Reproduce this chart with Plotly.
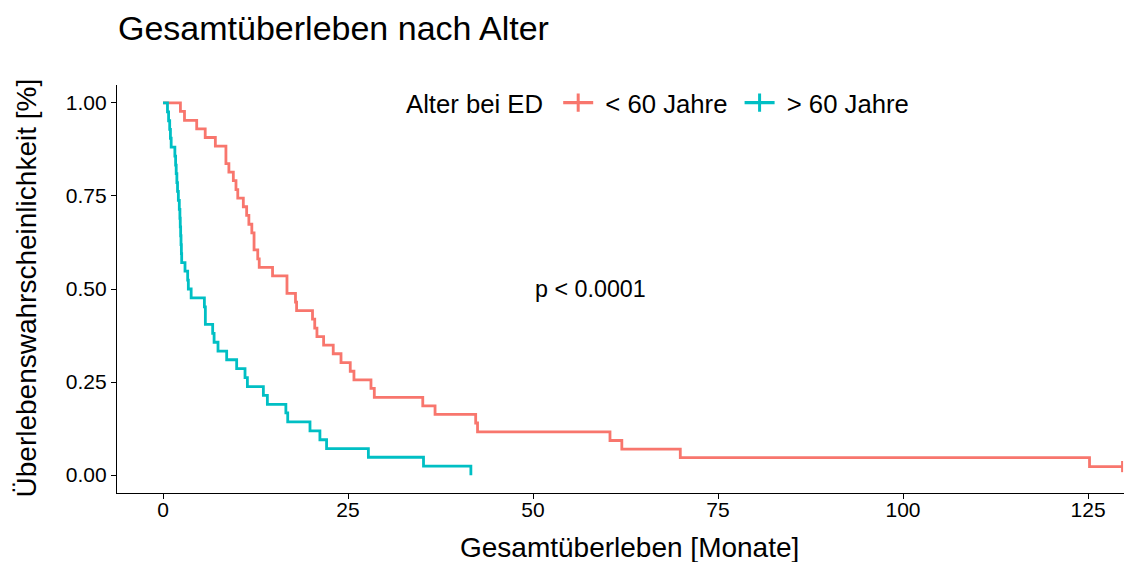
import plotly.graph_objects as go

# ---- data (Kaplan-Meier steps) ----
time_lt60 = [0, 2.35, 2.9, 4.55, 5.7, 7.07, 8.5, 8.9, 9.5, 9.86, 10.1, 10.85, 11.3, 11.6,
             12.0, 12.3, 12.8, 13.0, 14.8, 16.75, 17.9, 18.05, 20.2, 20.5, 20.8, 21.7,
             23.0, 24.05, 25.3, 25.8, 28.1, 28.55, 35.1, 36.76, 42.25, 42.5, 60.4, 62.0,
             69.9, 125.2, 129.6]
surv_lt60 = [1.000, 0.977, 0.953, 0.930, 0.907, 0.884, 0.837, 0.814, 0.791, 0.767, 0.744,
             0.721, 0.698, 0.674, 0.651, 0.605, 0.581, 0.558, 0.535, 0.488, 0.465, 0.442,
             0.419, 0.395, 0.372, 0.349, 0.326, 0.302, 0.279, 0.256, 0.233, 0.209, 0.186,
             0.163, 0.140, 0.116, 0.093, 0.070, 0.047, 0.023, 0.023]

time_gt60 = [0, 0.6, 0.75, 0.9, 1.0, 1.1, 1.6, 1.7, 1.78, 1.87, 1.96, 2.07, 2.2, 2.28,
             2.33, 2.38, 2.43, 2.48, 2.52, 2.97, 3.33, 3.42, 3.8, 5.59, 5.72, 6.71, 6.9,
             7.43, 8.6, 9.95, 11.08, 11.4, 13.56, 14.1, 16.6, 16.85, 19.86, 21.2, 22.1,
             27.75, 35.2, 41.6]
surv_gt60 = [1.000, 0.976, 0.952, 0.929, 0.905, 0.881, 0.857, 0.833, 0.810, 0.786, 0.762,
             0.738, 0.714, 0.690, 0.667, 0.643, 0.619, 0.595, 0.571, 0.548, 0.524, 0.500,
             0.476, 0.452, 0.405, 0.381, 0.357, 0.333, 0.310, 0.286, 0.262, 0.238, 0.214,
             0.190, 0.167, 0.143, 0.119, 0.095, 0.071, 0.048, 0.024, 0.000]

censor_lt60_t = [129.6]
censor_lt60_s = [0.023]

group_labels = ["< 60 Jahre", "> 60 Jahre"]
x_ticks = [0, 25, 50, 75, 100, 125]
y_ticks = [0.0, 0.25, 0.5, 0.75, 1.0]
y_ticklabels = ["0.00", "0.25", "0.50", "0.75", "1.00"]

RED = "#F8766D"
CYAN = "#00BFC4"
FONT = "Liberation Sans, Arial, sans-serif"

fig = go.Figure()

fig.add_trace(go.Scatter(x=time_lt60, y=surv_lt60, mode="lines", line_shape="hv",
                         line=dict(color=RED, width=2.8), showlegend=False))
fig.add_trace(go.Scatter(x=censor_lt60_t, y=censor_lt60_s, mode="markers",
                         marker=dict(symbol="line-ns", size=8, line=dict(color=RED, width=2)),
                         showlegend=False))
fig.add_trace(go.Scatter(x=time_gt60, y=surv_gt60, mode="lines", line_shape="hv",
                         line=dict(color=CYAN, width=2.8), showlegend=False))

# legend entries
legend_names = [" " + group_labels[0] + " ", " " + group_labels[1]]
for lab, col in zip(legend_names, [RED, CYAN]):
    fig.add_trace(go.Scatter(x=[None], y=[None], mode="lines+markers", name=lab,
                             line=dict(color=col, width=3.2),
                             marker=dict(symbol="line-ns", size=13,
                                         line=dict(color=col, width=3))))

fig.add_annotation(x=50, y=0.5, xref="x", yref="y", text="p < 0.0001", showarrow=False,
                   xanchor="left", yanchor="middle", font=dict(size=23.3, color="black"))

# axis titles as annotations (exact placement)
fig.add_annotation(x=0.5094, y=-0.1348, xref="paper", yref="paper",
                   text="Gesamtüberleben [Monate]", showarrow=False,
                   xanchor="center", yanchor="middle", font=dict(size=28, color="black"))
fig.add_annotation(x=-0.0894, y=0.5037, xref="paper", yref="paper",
                   text="Überlebenswahrscheinlichkeit [%]", showarrow=False, textangle=-90,
                   xanchor="center", yanchor="middle", font=dict(size=28, color="black"))

fig.update_layout(
    width=1124, height=562,
    margin=dict(l=117, r=0, t=85, b=69),
    paper_bgcolor="white", plot_bgcolor="white",
    font=dict(family=FONT, color="black"),
    title=dict(text="Gesamtüberleben nach Alter", x=118 / 1124, xanchor="left",
               y=1 - 28 / 562, yanchor="middle", font=dict(size=34, color="black")),
    legend=dict(orientation="h", x=0.285, xanchor="left", y=0.956, yanchor="middle",
                title=dict(text="Alter bei ED ", side="left", font=dict(size=25.7)),
                font=dict(size=25.7), bgcolor="rgba(0,0,0,0)", itemwidth=30),
    xaxis=dict(range=[-6.22, 129.86], tickvals=x_ticks, showgrid=False, zeroline=False,
               showline=True, linecolor="black", linewidth=1.2, ticks="outside",
               ticklen=5, tickcolor="black", tickfont=dict(size=21), automargin=False,
               ticklabelstandoff=-7),
    yaxis=dict(range=[-0.048, 1.048], tickvals=y_ticks, ticktext=y_ticklabels,
               showgrid=False, zeroline=False, showline=True, linecolor="black",
               linewidth=1.2, ticks="outside", ticklen=5, tickcolor="black",
               tickfont=dict(size=21), automargin=False),
)

fig.write_html("out.html", config={"displayModeBar": False},
               post_script="document.body.style.margin='0px';")
